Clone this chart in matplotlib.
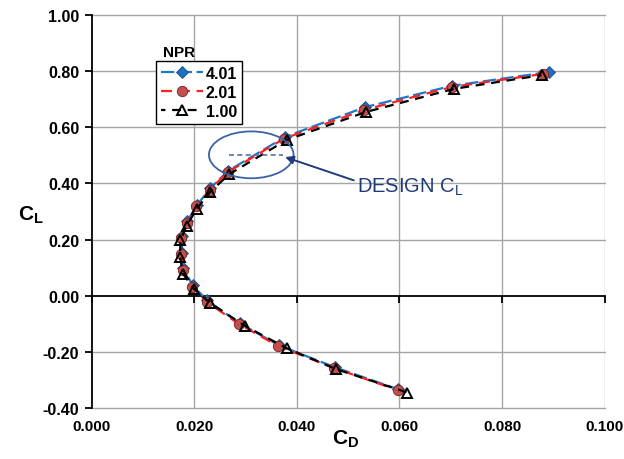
import matplotlib
matplotlib.use("Agg")
import matplotlib.pyplot as plt
from matplotlib.patches import Ellipse

plt.rcParams['font.family'] = ['Liberation Sans', 'DejaVu Sans']
plt.rcParams['mathtext.fontset'] = 'custom'
plt.rcParams['mathtext.rm'] = 'Liberation Sans'
plt.rcParams['mathtext.bf'] = 'Liberation Sans:bold'

# NPR 4.01
cd_401 = [0.0891, 0.0702, 0.0533, 0.0377, 0.0266, 0.0231, 0.0205, 0.0186, 0.0176, 0.0176, 0.0178, 0.0197, 0.0225, 0.0289, 0.0365, 0.0474, 0.0598]
cl_401 = [0.797, 0.748, 0.672, 0.566, 0.445, 0.383, 0.322, 0.265, 0.212, 0.151, 0.098, 0.037, -0.017, -0.099, -0.177, -0.255, -0.334]
# NPR 2.01
cd_201 = [0.0879, 0.0702, 0.0531, 0.0375, 0.0265, 0.0230, 0.0204, 0.0185, 0.0175, 0.0175, 0.0177, 0.0196, 0.0224, 0.0288, 0.0364, 0.0473, 0.0597]
cl_201 = [0.790, 0.744, 0.662, 0.560, 0.440, 0.378, 0.318, 0.260, 0.207, 0.148, 0.093, 0.032, -0.022, -0.102, -0.180, -0.258, -0.337]
# NPR 1.00
cd_100 = [0.0877, 0.0706, 0.0535, 0.0380, 0.0268, 0.0231, 0.0205, 0.0185, 0.0173, 0.0172, 0.0178, 0.0199, 0.0230, 0.0298, 0.0381, 0.0477, 0.0615]
cl_100 = [0.786, 0.737, 0.655, 0.555, 0.433, 0.370, 0.310, 0.250, 0.198, 0.139, 0.078, 0.025, -0.025, -0.107, -0.188, -0.262, -0.345]

series_labels = ['4.01', '2.01', '1.00']
x_ticks = [0.0, 0.02, 0.04, 0.06, 0.08, 0.10]
y_ticks = [-0.4, -0.2, 0.0, 0.2, 0.4, 0.6, 0.8, 1.0]
design_cl = 0.50
design_cd_range = [0.0267, 0.0372]

fig = plt.figure(figsize=(6.24, 4.6), dpi=100)
ax = fig.add_axes([0.147, 0.111, 0.822, 0.854])

grid_c = '#a6a6a6'
ax.set_xlim(0, 0.1)
ax.set_ylim(-0.4, 1.0)
for xv in x_ticks[1:]:
    ax.axvline(xv, color=grid_c, lw=1.0, zorder=0)
for yv in y_ticks:
    if yv != 0.0:
        ax.axhline(yv, color=grid_c, lw=1.0, zorder=0, clip_on=False)

ax.spines['top'].set_visible(False)
ax.spines['right'].set_visible(False)
ax.spines['left'].set_color('black')
ax.spines['left'].set_linewidth(1.3)
ax.spines['bottom'].set_position(('data', 0))
ax.spines['bottom'].set_color('black')
ax.spines['bottom'].set_linewidth(1.3)

ax.set_xticks(x_ticks)
ax.set_yticks(y_ticks)
ax.tick_params(axis='x', direction='out', length=5, width=1.3, labelbottom=False)
ax.tick_params(axis='y', direction='out', length=5, width=1.3, labelsize=11.5, pad=4)
ax.set_yticklabels([f'{v:.2f}' for v in y_ticks], fontweight='bold')

sec = ax.secondary_xaxis('bottom')
sec.set_xticks(x_ticks)
sec.set_xticklabels([f'{v:.3f}' for v in x_ticks], fontweight='bold')
sec.tick_params(length=0, labelsize=11, pad=8)
sec.spines['bottom'].set_visible(False)

l1, = ax.plot(cd_401, cl_401, color='#1f77c8', lw=1.6, ls=(0, (6, 2)),
              marker='D', ms=6, mfc='#1f6fbf', mec='#1a4f8a', mew=0.6, label=series_labels[0], zorder=3)
l2, = ax.plot(cd_201, cl_201, color='#ff2020', lw=1.6, ls=(0, (5, 3)),
              marker='o', ms=7.5, mfc='#c0504d', mec='#7a2020', mew=0.6, label=series_labels[1], zorder=4)
l3, = ax.plot(cd_100, cl_100, color='black', lw=1.6, ls=(2, (4, 3)),
              marker='^', ms=7.5, mfc='none', mec='black', mew=1.4, label=series_labels[2], zorder=5)

leg = ax.legend(handles=[l1, l2, l3], loc='upper left', bbox_to_anchor=(0.126, 0.883),
                frameon=True, fancybox=False, edgecolor='black', framealpha=1,
                prop={'weight': 'bold', 'size': 11.5}, handlelength=2.6, handletextpad=0.2,
                borderpad=0.3, labelspacing=0.25, borderaxespad=0, handleheight=0.9)
leg.get_frame().set_linewidth(1.0)
ax.text(0.0171, 0.868, 'NPR', fontsize=11, fontweight='bold', ha='center', va='center')

ell = Ellipse((0.0311, 0.502), 0.0165, 0.167, fill=False, edgecolor='#3a62a8', lw=1.3, zorder=6)
ax.add_patch(ell)
ax.plot(design_cd_range, [design_cl, design_cl], color='#5a6fa8', lw=1.2, ls=(0, (3, 2)), zorder=6)
ax.annotate('', xy=(design_cd_range[1], design_cl - 0.003), xytext=(0.0516, 0.408),
            arrowprops=dict(arrowstyle='-|>', color='#1f3b78', lw=1.4, mutation_scale=12), zorder=7)
ax.text(0.0622, 0.39, r'DESIGN $\mathrm{C_L}$', fontsize=14.5, color='#1f3b78', ha='center', va='center')

ax.text(-0.0118, 0.29, r'$\mathbf{C_L}$', fontsize=15, ha='center', va='center')
ax.text(0.0495, -0.51, r'$\mathbf{C_D}$', fontsize=15, ha='center', va='center')

fig.savefig('out.png', dpi=100)
